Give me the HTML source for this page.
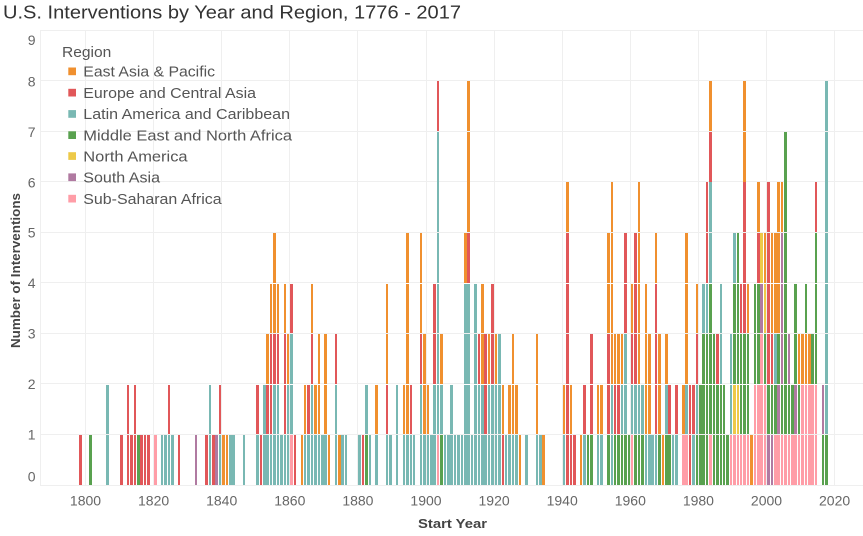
<!DOCTYPE html>
<html><head><meta charset="utf-8">
<style>
html,body{margin:0;padding:0;background:#fff;}
body{width:863px;height:536px;position:relative;overflow:hidden;font-family:"Liberation Sans",sans-serif;}
svg{position:absolute;left:0;top:0;}
#bars{position:absolute;left:78.703125px;top:0;height:485px;width:780px;display:flex;align-items:flex-end;}
#bars b{flex:none;width:3.40625px;display:flex;flex-direction:column-reverse;}
#bars i{display:block;height:49.86px;margin:0.7px 0.45px 0 0.45px;}
.o{background:#f0902f}.r{background:#e15759}.t{background:#79b8b3}.g{background:#59a14f}.y{background:#edc948}.p{background:#b07aa1}.k{background:#ff9da7}
</style></head><body>
<svg width="863" height="536" viewBox="0 0 863 536">
<g stroke="#efefef" stroke-width="1">
<line x1="40" y1="30.5" x2="863" y2="30.5"/>
<line x1="40" y1="80.5" x2="863" y2="80.5"/>
<line x1="40" y1="131.5" x2="863" y2="131.5"/>
<line x1="40" y1="181.5" x2="863" y2="181.5"/>
<line x1="40" y1="232.5" x2="863" y2="232.5"/>
<line x1="40" y1="282.5" x2="863" y2="282.5"/>
<line x1="40" y1="333.5" x2="863" y2="333.5"/>
<line x1="40" y1="383.5" x2="863" y2="383.5"/>
<line x1="40" y1="434.5" x2="863" y2="434.5"/>
<line x1="40" y1="485.5" x2="863" y2="485.5"/>
<line x1="40.5" y1="30" x2="40.5" y2="486"/>
<line x1="85.5" y1="30" x2="85.5" y2="486"/>
<line x1="153.5" y1="30" x2="153.5" y2="486"/>
<line x1="221.5" y1="30" x2="221.5" y2="486"/>
<line x1="289.5" y1="30" x2="289.5" y2="486"/>
<line x1="357.5" y1="30" x2="357.5" y2="486"/>
<line x1="426.5" y1="30" x2="426.5" y2="486"/>
<line x1="494.5" y1="30" x2="494.5" y2="486"/>
<line x1="562.5" y1="30" x2="562.5" y2="486"/>
<line x1="630.5" y1="30" x2="630.5" y2="486"/>
<line x1="698.5" y1="30" x2="698.5" y2="486"/>
<line x1="766.5" y1="30" x2="766.5" y2="486"/>
<line x1="834.5" y1="30" x2="834.5" y2="486"/>
</g>
<text x="3" y="18.5" font-size="18.5" fill="#333" textLength="458" lengthAdjust="spacingAndGlyphs" font-family="Liberation Sans, sans-serif">U.S. Interventions by Year and Region, 1776 - 2017</text>
<g font-size="14" fill="#666" text-anchor="end" font-family="Liberation Sans, sans-serif">
<text x="35.5" y="45">9</text>
<text x="35.5" y="86.5">8</text>
<text x="35.5" y="137">7</text>
<text x="35.5" y="187.3">6</text>
<text x="35.5" y="237.5">5</text>
<text x="35.5" y="288">4</text>
<text x="35.5" y="338.5">3</text>
<text x="35.5" y="389">2</text>
<text x="35.5" y="439.5">1</text>
<text x="35.5" y="481.7">0</text>
</g>
<g font-size="14" fill="#666" text-anchor="middle" font-family="Liberation Sans, sans-serif">
<text x="85.5" y="505.5">1800</text>
<text x="153.6" y="505.5">1820</text>
<text x="221.7" y="505.5">1840</text>
<text x="289.8" y="505.5">1860</text>
<text x="357.9" y="505.5">1880</text>
<text x="426" y="505.5">1900</text>
<text x="494.1" y="505.5">1920</text>
<text x="562.2" y="505.5">1940</text>
<text x="630.3" y="505.5">1960</text>
<text x="698.4" y="505.5">1980</text>
<text x="766.5" y="505.5">2000</text>
<text x="834.6" y="505.5">2020</text>
</g>
<text x="452.5" y="528" font-size="13" font-weight="bold" fill="#444" text-anchor="middle" textLength="69" lengthAdjust="spacingAndGlyphs" font-family="Liberation Sans, sans-serif">Start Year</text>
<text transform="translate(20,270.5) rotate(-90)" font-size="12.5" font-weight="bold" fill="#444" text-anchor="middle" textLength="155" lengthAdjust="spacingAndGlyphs" font-family="Liberation Sans, sans-serif">Number of Interventions</text>
<g font-family="Liberation Sans, sans-serif" fill="#555" font-size="15">
<text x="62" y="56.8" textLength="49.3" lengthAdjust="spacingAndGlyphs">Region</text>
<rect x="68.3" y="67.5" width="7.7" height="7.7" fill="#f0902f"/><text x="83.3" y="76.6" textLength="131.7" lengthAdjust="spacingAndGlyphs">East Asia &amp; Pacific</text>
<rect x="68.3" y="88.8" width="7.7" height="7.7" fill="#e15759"/><text x="83.3" y="97.9" textLength="172.7" lengthAdjust="spacingAndGlyphs">Europe and Central Asia</text>
<rect x="68.3" y="110.1" width="7.7" height="7.7" fill="#79b8b3"/><text x="83.3" y="119.2" textLength="206.7" lengthAdjust="spacingAndGlyphs">Latin America and Caribbean</text>
<rect x="68.3" y="131.3" width="7.7" height="7.7" fill="#59a14f"/><text x="83.3" y="140.4" textLength="208.7" lengthAdjust="spacingAndGlyphs">Middle East and North Africa</text>
<rect x="68.3" y="152.2" width="7.7" height="7.7" fill="#edc948"/><text x="83.3" y="161.3" textLength="104.3" lengthAdjust="spacingAndGlyphs">North America</text>
<rect x="68.3" y="173.4" width="7.7" height="7.7" fill="#b07aa1"/><text x="83.3" y="182.5" textLength="76.7" lengthAdjust="spacingAndGlyphs">South Asia</text>
<rect x="68.3" y="194.8" width="7.7" height="7.7" fill="#ff9da7"/><text x="83.3" y="203.9" textLength="138.3" lengthAdjust="spacingAndGlyphs">Sub-Saharan Africa</text>
</g>
</svg>
<div id="bars">
<b><i class="r"></i></b>
<b></b><b></b>
<b><i class="g"></i></b>
<b></b><b></b><b></b><b></b>
<b><i class="t"></i><i class="t"></i></b>
<b></b><b></b><b></b>
<b><i class="r"></i></b>
<b></b>
<b><i class="r"></i><i class="r"></i></b>
<b><i class="r"></i></b>
<b><i class="r"></i><i class="r"></i></b>
<b><i class="g"></i></b>
<b><i class="r"></i></b>
<b><i class="r"></i></b>
<b><i class="r"></i></b>
<b></b>
<b><i class="k"></i></b>
<b></b>
<b><i class="t"></i></b>
<b><i class="t"></i></b>
<b><i class="t"></i><i class="r"></i></b>
<b><i class="t"></i></b>
<b></b>
<b><i class="r"></i></b>
<b></b><b></b><b></b><b></b>
<b><i class="p"></i></b>
<b></b><b></b>
<b><i class="r"></i></b>
<b><i class="t"></i><i class="t"></i></b>
<b><i class="r"></i></b>
<b><i class="p"></i></b>
<b><i class="t"></i><i class="r"></i></b>
<b><i class="o"></i></b>
<b><i class="o"></i></b>
<b><i class="t"></i></b>
<b><i class="t"></i></b>
<b></b><b></b>
<b><i class="t"></i></b>
<b></b><b></b><b></b>
<b><i class="t"></i><i class="r"></i></b>
<b><i class="r"></i></b>
<b><i class="t"></i><i class="t"></i></b>
<b><i class="t"></i><i class="r"></i><i class="o"></i></b>
<b><i class="t"></i><i class="r"></i><i class="r"></i><i class="o"></i></b>
<b><i class="t"></i><i class="t"></i><i class="r"></i><i class="o"></i><i class="o"></i></b>
<b><i class="t"></i><i class="t"></i><i class="r"></i><i class="o"></i></b>
<b><i class="t"></i></b>
<b><i class="t"></i><i class="r"></i><i class="r"></i><i class="o"></i></b>
<b><i class="t"></i><i class="t"></i><i class="o"></i></b>
<b><i class="k"></i><i class="t"></i><i class="t"></i><i class="r"></i></b>
<b><i class="r"></i></b>
<b></b>
<b><i class="o"></i></b>
<b><i class="t"></i><i class="o"></i></b>
<b><i class="t"></i><i class="r"></i></b>
<b><i class="t"></i><i class="t"></i><i class="r"></i><i class="o"></i></b>
<b><i class="t"></i><i class="o"></i></b>
<b><i class="t"></i><i class="o"></i><i class="o"></i></b>
<b><i class="t"></i></b>
<b><i class="t"></i><i class="o"></i><i class="o"></i></b>
<b><i class="o"></i></b>
<b></b>
<b><i class="t"></i><i class="t"></i><i class="r"></i></b>
<b><i class="o"></i></b>
<b><i class="t"></i></b>
<b><i class="t"></i></b>
<b></b><b></b><b></b>
<b><i class="t"></i></b>
<b><i class="r"></i></b>
<b><i class="g"></i><i class="t"></i></b>
<b><i class="t"></i></b>
<b></b>
<b><i class="t"></i><i class="o"></i></b>
<b></b><b></b>
<b><i class="t"></i><i class="r"></i><i class="o"></i><i class="o"></i></b>
<b><i class="t"></i></b>
<b></b>
<b><i class="t"></i><i class="t"></i></b>
<b></b>
<b><i class="t"></i><i class="o"></i></b>
<b><i class="t"></i><i class="o"></i><i class="o"></i><i class="o"></i><i class="o"></i></b>
<b><i class="t"></i><i class="r"></i></b>
<b><i class="t"></i></b>
<b></b>
<b><i class="t"></i><i class="t"></i><i class="r"></i><i class="o"></i><i class="o"></i></b>
<b><i class="t"></i><i class="o"></i><i class="o"></i></b>
<b><i class="t"></i><i class="o"></i></b>
<b><i class="t"></i></b>
<b><i class="t"></i><i class="t"></i><i class="r"></i><i class="r"></i></b>
<b><i class="k"></i><i class="t"></i><i class="t"></i><i class="t"></i><i class="t"></i><i class="t"></i><i class="t"></i><i class="r"></i></b>
<b><i class="g"></i><i class="t"></i><i class="o"></i></b>
<b><i class="t"></i></b>
<b><i class="t"></i></b>
<b><i class="t"></i><i class="t"></i></b>
<b><i class="t"></i></b>
<b><i class="t"></i></b>
<b><i class="t"></i></b>
<b><i class="t"></i><i class="t"></i><i class="t"></i><i class="t"></i><i class="o"></i></b>
<b><i class="t"></i><i class="t"></i><i class="t"></i><i class="t"></i><i class="r"></i><i class="o"></i><i class="o"></i><i class="o"></i></b>
<b><i class="t"></i></b>
<b><i class="t"></i><i class="t"></i><i class="t"></i><i class="t"></i></b>
<b><i class="t"></i><i class="t"></i><i class="r"></i></b>
<b><i class="t"></i><i class="t"></i><i class="o"></i><i class="o"></i></b>
<b><i class="t"></i><i class="r"></i><i class="r"></i></b>
<b><i class="t"></i><i class="t"></i><i class="o"></i></b>
<b><i class="t"></i><i class="t"></i><i class="r"></i><i class="r"></i></b>
<b><i class="t"></i><i class="t"></i><i class="o"></i></b>
<b><i class="t"></i><i class="t"></i><i class="t"></i></b>
<b><i class="r"></i><i class="o"></i></b>
<b><i class="t"></i></b>
<b><i class="t"></i><i class="o"></i></b>
<b><i class="t"></i><i class="o"></i><i class="o"></i></b>
<b><i class="t"></i><i class="o"></i></b>
<b><i class="o"></i></b>
<b></b>
<b><i class="t"></i></b>
<b></b><b></b>
<b><i class="t"></i><i class="o"></i><i class="o"></i></b>
<b><i class="t"></i></b>
<b><i class="o"></i></b>
<b></b><b></b><b></b><b></b><b></b>
<b><i class="t"></i><i class="o"></i></b>
<b><i class="r"></i><i class="r"></i><i class="r"></i><i class="r"></i><i class="r"></i><i class="o"></i></b>
<b><i class="r"></i><i class="o"></i></b>
<b><i class="r"></i></b>
<b></b>
<b><i class="o"></i></b>
<b><i class="t"></i><i class="r"></i></b>
<b><i class="g"></i></b>
<b><i class="g"></i><i class="r"></i><i class="r"></i></b>
<b></b>
<b><i class="t"></i><i class="o"></i></b>
<b><i class="t"></i><i class="o"></i></b>
<b></b>
<b><i class="g"></i><i class="r"></i><i class="r"></i><i class="o"></i><i class="o"></i></b>
<b><i class="t"></i><i class="t"></i><i class="o"></i><i class="o"></i><i class="o"></i><i class="o"></i></b>
<b><i class="g"></i><i class="r"></i><i class="o"></i></b>
<b><i class="g"></i><i class="r"></i><i class="o"></i></b>
<b><i class="g"></i><i class="t"></i><i class="o"></i></b>
<b><i class="g"></i><i class="t"></i><i class="t"></i><i class="r"></i><i class="r"></i></b>
<b><i class="g"></i></b>
<b><i class="k"></i><i class="t"></i><i class="r"></i><i class="o"></i></b>
<b><i class="g"></i><i class="t"></i><i class="r"></i><i class="r"></i><i class="r"></i></b>
<b><i class="g"></i><i class="t"></i><i class="o"></i><i class="o"></i><i class="o"></i><i class="o"></i></b>
<b><i class="g"></i><i class="t"></i></b>
<b><i class="t"></i><i class="o"></i><i class="o"></i><i class="o"></i></b>
<b><i class="t"></i><i class="o"></i><i class="o"></i></b>
<b><i class="t"></i></b>
<b><i class="t"></i><i class="r"></i><i class="r"></i><i class="r"></i><i class="o"></i></b>
<b><i class="g"></i><i class="o"></i><i class="o"></i></b>
<b><i class="o"></i></b>
<b><i class="g"></i><i class="t"></i><i class="o"></i></b>
<b><i class="g"></i><i class="r"></i></b>
<b><i class="t"></i></b>
<b><i class="t"></i><i class="r"></i></b>
<b></b>
<b><i class="k"></i><i class="o"></i></b>
<b><i class="k"></i><i class="t"></i><i class="o"></i><i class="o"></i><i class="o"></i></b>
<b><i class="r"></i><i class="r"></i></b>
<b><i class="t"></i><i class="r"></i></b>
<b><i class="g"></i><i class="t"></i><i class="r"></i><i class="o"></i></b>
<b><i class="g"></i><i class="g"></i></b>
<b><i class="g"></i><i class="g"></i><i class="g"></i><i class="t"></i></b>
<b><i class="g"></i><i class="g"></i><i class="g"></i><i class="t"></i><i class="r"></i><i class="r"></i></b>
<b><i class="k"></i><i class="g"></i><i class="g"></i><i class="g"></i><i class="t"></i><i class="t"></i><i class="r"></i><i class="o"></i></b>
<b><i class="g"></i><i class="g"></i><i class="g"></i></b>
<b><i class="g"></i><i class="g"></i><i class="r"></i></b>
<b><i class="g"></i><i class="g"></i><i class="t"></i><i class="t"></i></b>
<b><i class="g"></i><i class="g"></i></b>
<b><i class="g"></i></b>
<b><i class="k"></i><i class="t"></i><i class="t"></i></b>
<b><i class="k"></i><i class="y"></i><i class="g"></i><i class="g"></i><i class="t"></i></b>
<b><i class="k"></i><i class="y"></i><i class="g"></i><i class="g"></i><i class="g"></i></b>
<b><i class="k"></i><i class="g"></i><i class="g"></i><i class="r"></i></b>
<b><i class="k"></i><i class="g"></i><i class="g"></i><i class="r"></i><i class="r"></i><i class="r"></i><i class="o"></i><i class="o"></i></b>
<b><i class="k"></i><i class="g"></i><i class="g"></i><i class="o"></i></b>
<b><i class="o"></i></b>
<b><i class="k"></i><i class="k"></i><i class="g"></i><i class="g"></i></b>
<b><i class="k"></i><i class="k"></i><i class="g"></i><i class="g"></i><i class="r"></i><i class="o"></i></b>
<b><i class="k"></i><i class="k"></i><i class="k"></i><i class="p"></i><i class="y"></i></b>
<b><i class="k"></i><i class="k"></i><i class="g"></i><i class="y"></i><i class="o"></i></b>
<b><i class="p"></i><i class="g"></i><i class="r"></i><i class="r"></i><i class="r"></i><i class="r"></i></b>
<b><i class="p"></i><i class="g"></i><i class="r"></i><i class="o"></i><i class="o"></i></b>
<b><i class="k"></i><i class="g"></i><i class="t"></i><i class="o"></i><i class="o"></i></b>
<b><i class="k"></i><i class="p"></i><i class="g"></i><i class="o"></i><i class="o"></i><i class="o"></i></b>
<b><i class="k"></i><i class="g"></i><i class="p"></i><i class="p"></i><i class="p"></i><i class="o"></i></b>
<b><i class="k"></i><i class="g"></i><i class="g"></i><i class="g"></i><i class="g"></i><i class="g"></i><i class="g"></i></b>
<b><i class="k"></i><i class="g"></i><i class="p"></i></b>
<b><i class="k"></i><i class="g"></i></b>
<b><i class="k"></i><i class="p"></i><i class="g"></i><i class="g"></i></b>
<b><i class="k"></i><i class="g"></i><i class="o"></i></b>
<b><i class="k"></i><i class="k"></i><i class="o"></i></b>
<b><i class="k"></i><i class="k"></i><i class="o"></i><i class="g"></i></b>
<b><i class="k"></i><i class="k"></i><i class="o"></i></b>
<b><i class="k"></i><i class="k"></i><i class="g"></i></b>
<b><i class="k"></i><i class="k"></i><i class="g"></i><i class="g"></i><i class="g"></i><i class="r"></i></b>
<b></b>
<b><i class="g"></i><i class="p"></i></b>
<b><i class="g"></i><i class="t"></i><i class="t"></i><i class="t"></i><i class="t"></i><i class="t"></i><i class="t"></i><i class="t"></i></b>
</div>
</body></html>
